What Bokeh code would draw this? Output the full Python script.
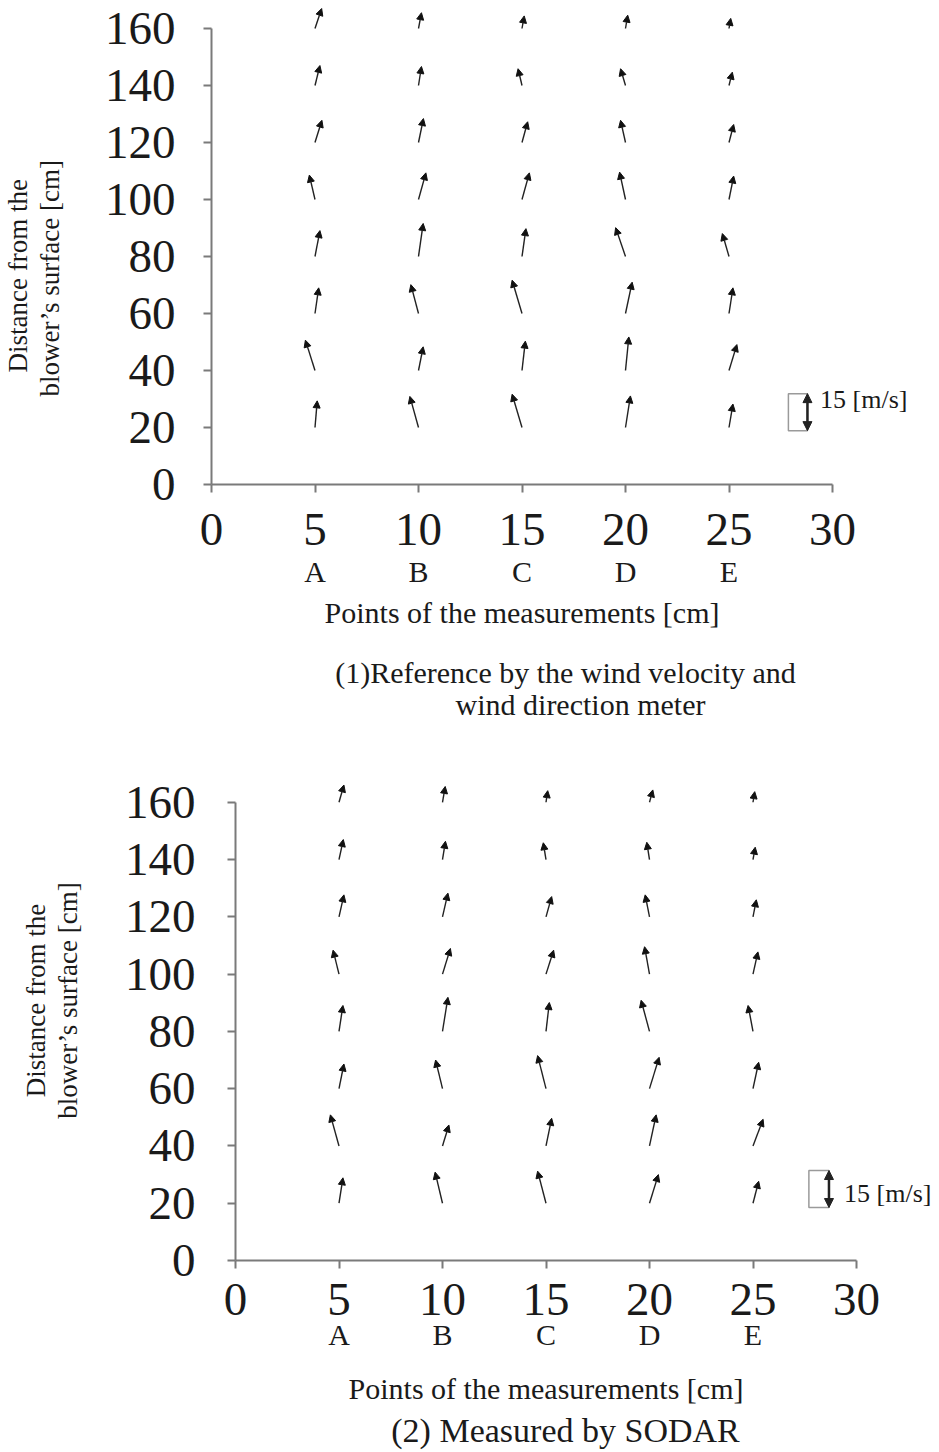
from bokeh.plotting import figure
from bokeh.models import (Range1d, FixedTicker, ColumnDataSource, Arrow, NormalHead, Label,
                          LinearAxis, Title)
from bokeh.layouts import column
from bokeh.embed import file_html
from bokeh.resources import INLINE

# ---------------- data ----------------
POINTS = ["A", "B", "C", "D", "E"]
X_POS = [5, 10, 15, 20, 25]
HEIGHTS = [20, 40, 60, 80, 100, 120, 140, 160]
X_TICKS = [0, 5, 10, 15, 20, 25, 30]
Y_TICKS = [0, 20, 40, 60, 80, 100, 120, 140, 160]

# wind components [m/s], rows = HEIGHTS, columns = POINTS
REF_U = [
    [0.9, -3.5, -4.0, 2.0, 1.6],
    [-3.9, 1.9, 1.35, 1.35, 3.2],
    [1.5, -3.1, -4.0, 2.7, 1.6],
    [2.0, 1.9, 1.6, -4.0, -2.7],
    [-2.3, 3.0, 3.0, -2.4, 1.9],
    [2.8, 2.0, 2.3, -2.0, 1.9],
    [2.0, 1.2, -1.6, -2.0, 1.35],
    [2.7, 1.2, 0.9, 0.9, 0.7],
]
REF_V = [
    [10.8, 12.6, 13.5, 12.8, 9.5],
    [12.3, 9.6, 11.9, 13.6, 10.5],
    [10.4, 11.7, 13.5, 12.7, 10.4],
    [10.5, 13.4, 11.3, 11.7, 9.3],
    [9.9, 10.8, 10.8, 11.1, 9.5],
    [9.0, 9.7, 8.4, 9.0, 7.3],
    [8.1, 7.7, 6.8, 6.8, 5.4],
    [8.1, 6.4, 5.1, 5.4, 4.1],
]
SODAR_U = [
    [1.6, -3.0, -3.4, 3.6, 2.3],
    [-3.5, 2.6, 2.3, 2.7, 4.1],
    [2.0, -2.8, -3.4, 3.9, 2.3],
    [1.6, 2.2, 1.35, -3.4, -2.0],
    [-2.4, 3.2, 3.1, -2.0, 2.0],
    [2.0, 2.2, 2.3, -1.75, 1.35],
    [1.75, 1.2, -1.1, -1.1, 0.9],
    [2.0, 1.1, 0.7, 1.35, 0.7],
]
SODAR_V = [
    [10.3, 12.6, 13.0, 11.6, 8.9],
    [12.6, 8.5, 11.2, 12.6, 10.8],
    [10.0, 11.6, 13.4, 12.7, 10.7],
    [10.5, 13.8, 11.7, 12.6, 10.5],
    [9.7, 10.4, 9.7, 11.1, 9.0],
    [8.9, 9.6, 8.2, 8.9, 6.9],
    [8.1, 7.4, 6.8, 7.0, 5.0],
    [7.0, 6.4, 4.7, 5.0, 4.3],
]
LEGEND_SPEED = 15
LEGEND_TEXT = "15 [m/s]"
X_TITLE = "Points of the measurements [cm]"
Y_TITLE_1 = "Distance from the"
Y_TITLE_2 = "blower\u2019s surface [cm]"
CAPTION_1 = ["(1)Reference by the wind velocity and", "wind direction meter"]
CAPTION_2 = ["(2) Measured by SODAR"]

# ---------------- style ----------------
FONT = "Liberation Serif"
TXT = "#1a1a1a"
AXIS_COL = "#7a7a7a"
PX_PER_MS = 37.0 / 15.0   # arrow length scale (pixels per m/s)
W = 939


def no_align(p):
    if "frame_align" in p.properties():
        p.frame_align = False


def style_axis(ax, size):
    ax.axis_line_color = AXIS_COL
    ax.axis_line_width = 2
    ax.major_tick_line_color = AXIS_COL
    ax.major_tick_line_width = 2
    ax.major_tick_in = 0
    ax.major_tick_out = 8
    ax.minor_tick_line_color = None
    ax.major_label_text_font = FONT
    ax.major_label_text_font_size = size
    ax.major_label_text_color = TXT
    ax.axis_label_text_font = FONT
    ax.axis_label_text_font_style = "normal"
    ax.axis_label_text_color = TXT


def y_title(text, offset):
    kw = dict(text=text, vertical_align="bottom", standoff=0, text_font=FONT,
              text_font_size="27px", text_font_style="normal", text_color=TXT,
              text_line_height=0.95)
    if offset is None:
        return Title(align="center", **kw)
    return Title(align="left", offset=offset, **kw)


def make_chart(u, v, cfg):
    left = cfg["left"]
    frame_h = cfg["frame_h"]
    pxx = cfg["pxx"]
    pxy = cfg["pxy"]
    H = frame_h + cfg["bottom"]
    x_end = (W - left) / pxx
    y_end = frame_h / pxy
    p = figure(width=W, height=H, x_range=Range1d(0, x_end), y_range=Range1d(0, y_end),
               output_backend="svg", toolbar_location=None,
               min_border_left=left, min_border_right=0, min_border_top=0,
               min_border_bottom=cfg["bottom"])
    no_align(p)
    p.outline_line_color = None
    p.grid.visible = False
    p.background_fill_color = "white"
    p.border_fill_color = "white"

    xa = p.xaxis[0]
    ya = p.yaxis[0]
    style_axis(xa, "47px")
    style_axis(ya, "47px")
    xa.ticker = FixedTicker(ticks=X_TICKS)
    xa.bounds = (0, 30)
    ya.ticker = FixedTicker(ticks=Y_TICKS)
    ya.bounds = (0, 160)
    xa.major_label_standoff = cfg["x_standoff"]
    ya.major_label_standoff = cfg["y_standoff"]

    # gap between tick labels and the y title (blank axis label)
    ya.axis_label = " "
    ya.axis_label_text_font_size = "2px"
    ya.axis_label_standoff = cfg["yt_gap"]
    o2, o1 = cfg["yt_offsets"]
    p.add_layout(y_title(Y_TITLE_2, o2), "left")
    p.add_layout(y_title(Y_TITLE_1, o1), "left")

    # point letters as a second x axis
    la = LinearAxis(ticker=FixedTicker(ticks=X_POS),
                    major_label_overrides={x: n for x, n in zip(X_POS, POINTS)})
    style_axis(la, "30px")
    la.axis_line_color = None
    la.major_tick_line_color = None
    la.major_tick_out = 0
    la.major_label_standoff = cfg["letter_standoff"]
    p.add_layout(la, "below")

    # arrows
    x0, y0, x1, y1 = [], [], [], []
    for i, h in enumerate(HEIGHTS):
        for j, x in enumerate(X_POS):
            x0.append(x)
            y0.append(h)
            x1.append(x + u[i][j] * PX_PER_MS / pxx)
            y1.append(h + v[i][j] * PX_PER_MS / pxy)
    src = ColumnDataSource(dict(x0=x0, y0=y0, x1=x1, y1=y1))
    p.add_layout(Arrow(end=NormalHead(size=7, fill_color="#111", line_color="#111", line_width=1),
                       x_start="x0", y_start="y0", x_end="x1", y_end="y1", source=src,
                       line_color="#222", line_width=1.4))

    # scale legend
    lx0, lx1, ly0 = cfg["leg_box"]
    lh = LEGEND_SPEED * PX_PER_MS / pxy
    p.quad(left=[lx0], right=[lx1], bottom=[ly0], top=[ly0 + lh], fill_color=None,
           line_color="#9a9a9a", line_width=1.5)
    p.add_layout(Arrow(start=NormalHead(size=9, fill_color="#222", line_color="#222"),
                       end=NormalHead(size=9, fill_color="#222", line_color="#222"),
                       x_start=lx1, y_start=ly0, x_end=lx1, y_end=ly0 + lh,
                       line_color="#222", line_width=2.5))
    tx, ty = cfg["leg_text"]
    p.add_layout(Label(x=tx, y=ty, text=LEGEND_TEXT, text_align="left", text_baseline="middle",
                       text_font=FONT, text_font_size="26px", text_color=TXT))
    return p


def text_strip(height, items):
    """A plain strip (no axes) holding titles / captions; coordinates are pixels."""
    c = figure(width=W, height=height, x_range=Range1d(0, W), y_range=Range1d(height, 0),
               output_backend="svg", toolbar_location=None, min_border=0,
               x_axis_location=None, y_axis_location=None)
    no_align(c)
    c.outline_line_color = None
    c.grid.visible = False
    c.background_fill_color = "white"
    c.border_fill_color = "white"
    for text, x, y, size in items:
        c.add_layout(Label(x=x, y=y, text=text, text_align="center", text_baseline="middle",
                           text_font=FONT, text_font_size=size, text_color=TXT))
    return c


cfg1 = dict(left=211, frame_h=484, bottom=112, pxx=20.7, pxy=2.85,
            x_standoff=21, y_standoff=28, yt_gap=32, yt_offsets=(88, 112),
            letter_standoff=7, leg_box=(27.87, 28.79, 18.9), leg_text=(29.4, 30.0))
cfg2 = dict(left=235, frame_h=520, bottom=100, pxx=20.7, pxy=2.864,
            x_standoff=15, y_standoff=32, yt_gap=34, yt_offsets=(None, None),
            letter_standoff=0, leg_box=(27.7, 28.67, 18.5), leg_text=(29.4, 23.4))

p1 = make_chart(REF_U, REF_V, cfg1)
p2 = make_chart(SODAR_U, SODAR_V, cfg2)

h1 = 740 - (cfg1["frame_h"] + cfg1["bottom"])
h2 = 1452 - 740 - (cfg2["frame_h"] + cfg2["bottom"])
mid1 = cfg1["left"] + 15 * cfg1["pxx"]
mid2 = cfg2["left"] + 15 * cfg2["pxx"]
cap1 = text_strip(h1, [(X_TITLE, mid1, 16, "30px"),
                       (CAPTION_1[0], 565, 76, "30px"),
                       (CAPTION_1[1], 580, 108, "30px")])
cap2 = text_strip(h2, [(X_TITLE, mid2, 28, "30px"),
                       (CAPTION_2[0], 565, 70, "34px")])

layout = column(p1, cap1, p2, cap2)
open("out.html", "w").write(file_html(layout, INLINE))
